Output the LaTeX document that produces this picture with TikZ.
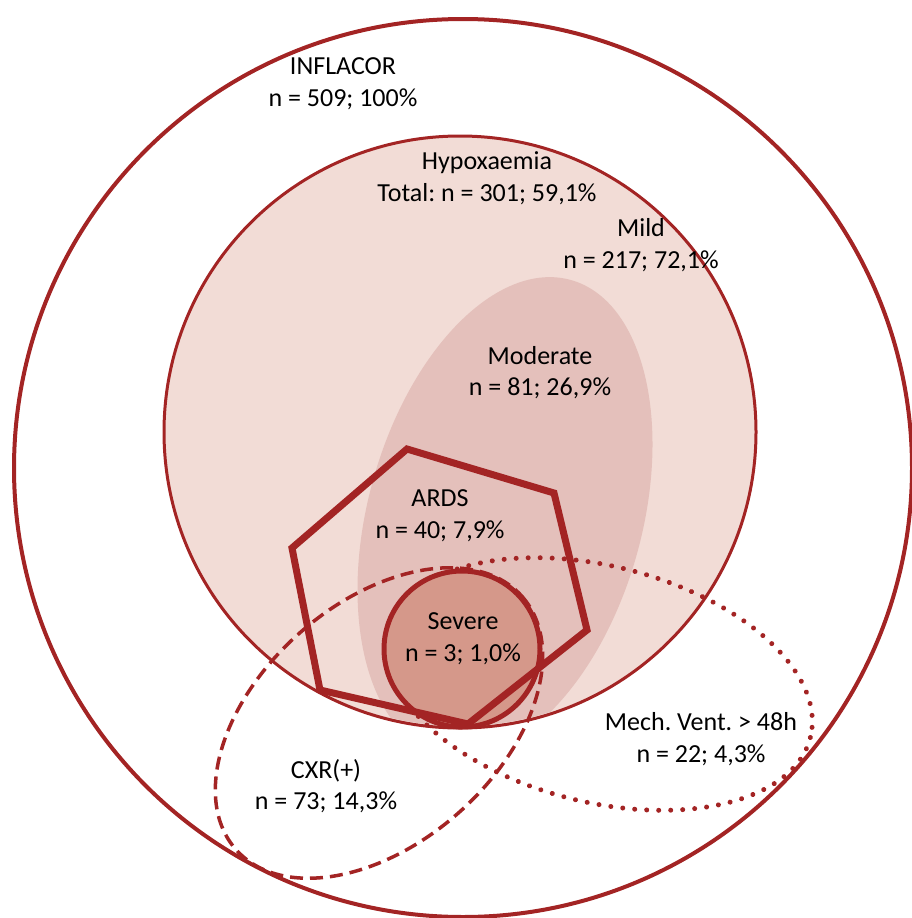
\documentclass[tikz,border=0pt]{standalone}
\usepackage{fontspec}
\setmainfont{Carlito}
\frenchspacing
\definecolor{darkred}{RGB}{163,36,36}
\definecolor{hypfill}{RGB}{242,220,214}
\definecolor{modfill}{RGB}{228,192,187}
\definecolor{sevfill}{RGB}{213,152,138}
\tikzset{
  lbl/.style={align=center, inner sep=0pt, font=\fontsize{26}{31.7}\selectfont, text=black},
  outerring/.style={draw=darkred, line width=4pt},
  hypring/.style={draw=darkred, fill=hypfill, line width=3pt},
  sevring/.style={draw=darkred, fill=sevfill, line width=5pt},
  ardsshape/.style={draw=darkred, line width=7pt, line join=miter},
  cxrline/.style={draw=darkred, line width=3.5pt, dash pattern=on 13pt off 7pt},
  mvline/.style={draw=darkred, line width=5pt, line cap=round, dash pattern=on 0.01pt off 12pt}
}
\begin{document}
\begin{tikzpicture}[x=1pt,y=-1pt]
\useasboundingbox (0,0) rectangle (911,918);
% outer circle
\path[outerring] (463,468) circle [radius=449];
% hypoxaemia
\path[hypring] (460,432) circle [radius=296];
% moderate ellipse clipped to hypoxaemia circle
\begin{scope}
  \clip (460,432) circle [radius=294];
  \path[fill=modfill, rotate around={74.5:(505,517)}] (505,517) ellipse [x radius=246, y radius=137];
\end{scope}
% CXR dashed ellipse
\path[cxrline, rotate around={41.5:(379,723)}] (379,723) ellipse [x radius=191, y radius=120];
% Mech vent dotted ellipse
\path[mvline, rotate around={-14.2:(599,684)}] (599,684) ellipse [x radius=218, y radius=118];
% severe circle
\path[sevring] (462,649) circle [radius=78];
% ARDS hexagon
\path[ardsshape] (407,449) -- (554,493) -- (587,630) -- (468,724) -- (320,690) -- (292,548) -- cycle;
% labels
\node[lbl] (inflacor) at (343,83.5) {INFLACOR\\n = 509; 100\%};
\node[lbl] (hypox) at (487,178.5) {Hypoxaemia\\Total: n = 301; 59,1\%};
\node[lbl] (mild) at (641,245) {Mild\\n = 217; 72,1\%};
\node[lbl] (moderate) at (540,372.5) {Moderate\\n = 81; 26,9\%};
\node[lbl] (ards) at (440,516) {ARDS\\n = 40; 7,9\%};
\node[lbl] (severe) at (463,639) {Severe\\n = 3; 1,0\%};
\node[lbl] (mechvent) at (701,739) {Mech. Vent. > 48h\\n = 22; 4,3\%};
\node[lbl] (cxr) at (326,786) {CXR(+)\\n = 73; 14,3\%};
\end{tikzpicture}
\end{document}
